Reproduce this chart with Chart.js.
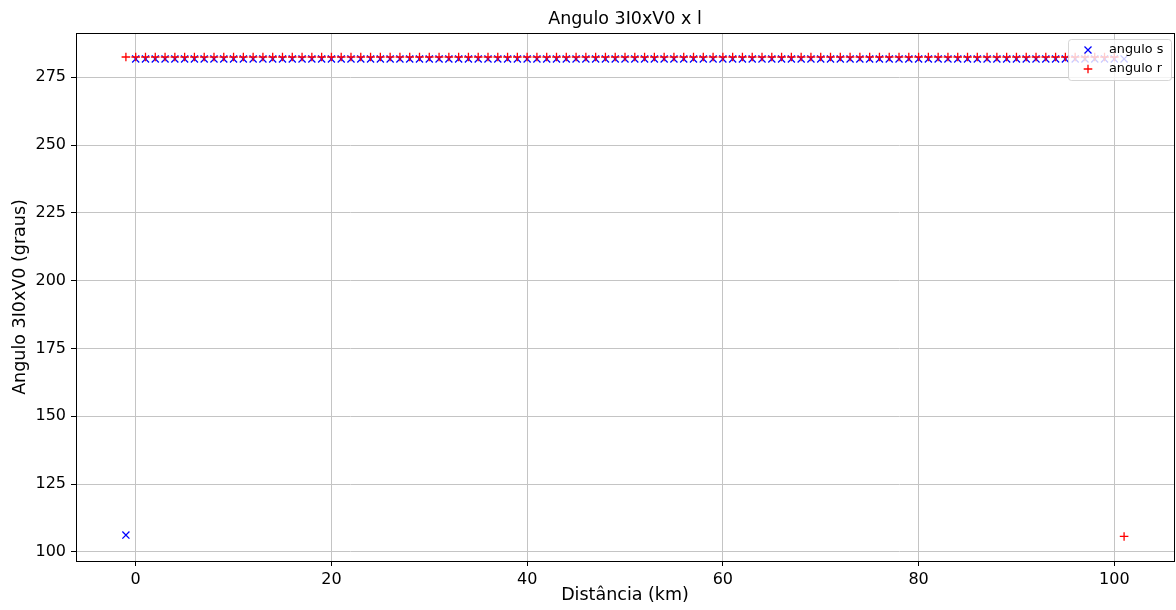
<!DOCTYPE html>
<html>
<head>
<meta charset="utf-8">
<title>Angulo 3I0xV0 x l</title>
<script src="https://cdn.jsdelivr.net/npm/chart.js@4.4.1/dist/chart.umd.min.js"></script>
<style>
  html, body { margin: 0; padding: 0; background: #fff; }
  #wrap { width: 1176px; height: 610px; }
</style>
</head>
<body>
<div id="wrap"><canvas id="anguloChart" width="1176" height="610"></canvas></div>
<script>
// Distância (km) de cada ponto
const distancias = [
  -1, 0, 1, 2, 3, 4, 5, 6, 7, 8, 9, 10, 11, 12, 13, 14, 15, 16, 17, 18, 19, 20,
  21, 22, 23, 24, 25, 26, 27, 28, 29, 30, 31, 32, 33, 34, 35, 36, 37, 38, 39, 40,
  41, 42, 43, 44, 45, 46, 47, 48, 49, 50, 51, 52, 53, 54, 55, 56, 57, 58, 59, 60,
  61, 62, 63, 64, 65, 66, 67, 68, 69, 70, 71, 72, 73, 74, 75, 76, 77, 78, 79, 80,
  81, 82, 83, 84, 85, 86, 87, 88, 89, 90, 91, 92, 93, 94, 95, 96, 97, 98, 99, 100,
  101
];

// Angulo 3I0xV0 no terminal s (graus)
const anguloS = [
  106.2, 281.8, 281.8, 281.8, 281.8, 281.8, 281.8, 281.8, 281.8, 281.8, 281.8, 281.8,
  281.8, 281.8, 281.8, 281.8, 281.8, 281.8, 281.8, 281.8, 281.8, 281.8, 281.8, 281.8,
  281.8, 281.8, 281.8, 281.8, 281.8, 281.8, 281.8, 281.8, 281.8, 281.8, 281.8, 281.8,
  281.8, 281.8, 281.8, 281.8, 281.8, 281.8, 281.8, 281.8, 281.8, 281.8, 281.8, 281.8,
  281.8, 281.8, 281.8, 281.8, 281.8, 281.8, 281.8, 281.8, 281.8, 281.8, 281.8, 281.8,
  281.8, 281.8, 281.8, 281.8, 281.8, 281.8, 281.8, 281.8, 281.8, 281.8, 281.8, 281.8,
  281.8, 281.8, 281.8, 281.8, 281.8, 281.8, 281.8, 281.8, 281.8, 281.8, 281.8, 281.8,
  281.8, 281.8, 281.8, 281.8, 281.8, 281.8, 281.8, 281.8, 281.8, 281.8, 281.8, 281.8,
  281.8, 281.8, 281.8, 281.8, 281.8, 281.8, 281.8
];

// Angulo 3I0xV0 no terminal r (graus)
const anguloR = [
  282.5, 282.5, 282.5, 282.5, 282.5, 282.5, 282.5, 282.5, 282.5, 282.5, 282.5, 282.5,
  282.5, 282.5, 282.5, 282.5, 282.5, 282.5, 282.5, 282.5, 282.5, 282.5, 282.5, 282.5,
  282.5, 282.5, 282.5, 282.5, 282.5, 282.5, 282.5, 282.5, 282.5, 282.5, 282.5, 282.5,
  282.5, 282.5, 282.5, 282.5, 282.5, 282.5, 282.5, 282.5, 282.5, 282.5, 282.5, 282.5,
  282.5, 282.5, 282.5, 282.5, 282.5, 282.5, 282.5, 282.5, 282.5, 282.5, 282.5, 282.5,
  282.5, 282.5, 282.5, 282.5, 282.5, 282.5, 282.5, 282.5, 282.5, 282.5, 282.5, 282.5,
  282.5, 282.5, 282.5, 282.5, 282.5, 282.5, 282.5, 282.5, 282.5, 282.5, 282.5, 282.5,
  282.5, 282.5, 282.5, 282.5, 282.5, 282.5, 282.5, 282.5, 282.5, 282.5, 282.5, 282.5,
  282.5, 282.5, 282.5, 282.5, 282.5, 282.5, 105.7
];

// Ticks dos eixos
const xTicks = [0, 20, 40, 60, 80, 100];
const yTicks = [100, 125, 150, 175, 200, 225, 250, 275];

const FONT = "'DejaVu Sans', 'Liberation Sans', sans-serif";

function toPoints(xs, ys) {
    return xs.map((x, i) => ({ x: x, y: ys[i] }));
}

// Moldura completa da área do gráfico
const frameBox = {
    id: 'frameBox',
    afterDatasetsDraw(chart) {
        const { ctx, chartArea: a } = chart;
        ctx.save();
        ctx.strokeStyle = '#000';
        ctx.lineWidth = 1;
        ctx.strokeRect(Math.round(a.left) + 0.5, Math.round(a.top) + 0.5,
            Math.round(a.right - a.left), Math.round(a.bottom - a.top));
        ctx.restore();
    }
};

// Legenda no canto superior direito, com fundo semi-transparente
const cornerLegend = {
    id: 'cornerLegend',
    afterDraw(chart) {
        const { ctx, chartArea: a } = chart;
        const w = 103, h = 41;
        const x = Math.round(a.right) - w - 3, y = Math.round(a.top) + 6;
        ctx.save();
        ctx.beginPath();
        ctx.roundRect(x + 0.5, y + 0.5, w, h, 3);
        ctx.fillStyle = 'rgba(255,255,255,0.8)';
        ctx.fill();
        ctx.strokeStyle = 'rgba(204,204,204,0.8)';
        ctx.lineWidth = 1;
        ctx.stroke();

        const items = chart.data.datasets;
        ctx.font = '12.8px ' + FONT;
        ctx.textBaseline = 'middle';
        ctx.fillStyle = '#000';
        items.forEach((ds, i) => {
            const cy = y + 11 + i * 19;
            const mx = x + 20;
            ctx.strokeStyle = ds.borderColor;
            ctx.lineWidth = 1.3;
            ctx.beginPath();
            if (ds.pointStyle === 'crossRot') {
                ctx.moveTo(mx - 3.5, cy - 3.5); ctx.lineTo(mx + 3.5, cy + 3.5);
                ctx.moveTo(mx - 3.5, cy + 3.5); ctx.lineTo(mx + 3.5, cy - 3.5);
            } else {
                ctx.moveTo(mx - 4.3, cy); ctx.lineTo(mx + 4.3, cy);
                ctx.moveTo(mx, cy - 4.3); ctx.lineTo(mx, cy + 4.3);
            }
            ctx.stroke();
            ctx.fillText(ds.label, x + 41, cy);
        });
        ctx.restore();
    }
};

const ctx = document.getElementById('anguloChart').getContext('2d');

new Chart(ctx, {
    type: 'scatter',
    data: {
        datasets: [
            {
                label: 'angulo s',
                data: toPoints(distancias, anguloS),
                pointStyle: 'crossRot',
                pointRadius: 5,
                pointHoverRadius: 5,
                borderColor: '#0000ff',
                backgroundColor: '#0000ff',
                pointBorderWidth: 1.3,
                order: 1
            },
            {
                label: 'angulo r',
                data: toPoints(distancias, anguloR),
                pointStyle: 'cross',
                pointRadius: 4.3,
                pointHoverRadius: 4.3,
                borderColor: '#ff0000',
                backgroundColor: '#ff0000',
                pointBorderWidth: 1.3,
                order: 0
            }
        ]
    },
    options: {
        responsive: false,
        animation: false,
        devicePixelRatio: 1,
        layout: {
            autoPadding: false,
            padding: { left: 0, right: 2, top: 0, bottom: 0 }
        },
        plugins: {
            legend: { display: false },
            tooltip: { enabled: false },
            title: {
                display: true,
                fullSize: false,
                text: 'Angulo 3I0xV0 x l',
                color: '#000',
                font: { family: FONT, size: 17.5, weight: 'normal' },
                padding: { top: 9, bottom: 3 }
            }
        },
        scales: {
            x: {
                type: 'linear',
                min: -6.1,
                max: 106.1,
                afterBuildTicks: (scale) => { scale.ticks = xTicks.map(v => ({ value: v })); },
                afterFit: (scale) => {
                    scale.height = 49;
                    // sem folga extra para os rótulos nas pontas
                    scale.paddingLeft = 0;
                    scale.paddingRight = 0;
                },
                border: { display: false },
                grid: {
                    color: '#c4c4c4',
                    lineWidth: 1,
                    drawTicks: true,
                    tickLength: 5,
                    tickColor: '#000'
                },
                ticks: {
                    color: '#000',
                    padding: 4,
                    maxRotation: 0,
                    font: { family: FONT, size: 16 }
                },
                title: {
                    display: true,
                    text: 'Distância (km)',
                    color: '#000',
                    font: { family: FONT, size: 17.5 },
                    padding: { top: 0, bottom: 4 }
                }
            },
            y: {
                type: 'linear',
                min: 96.65,
                max: 291.35,
                afterBuildTicks: (scale) => { scale.ticks = yTicks.map(v => ({ value: v })); },
                afterFit: (scale) => { scale.width = 76; },
                border: { display: false },
                grid: {
                    color: '#c4c4c4',
                    lineWidth: 1,
                    drawTicks: true,
                    tickLength: 5,
                    tickColor: '#000'
                },
                ticks: {
                    color: '#000',
                    padding: 5,
                    font: { family: FONT, size: 16 }
                },
                title: {
                    display: true,
                    text: 'Angulo 3I0xV0 (graus)',
                    color: '#000',
                    font: { family: FONT, size: 17.5 },
                    padding: { top: 10, bottom: 0 }
                }
            }
        }
    },
    plugins: [frameBox, cornerLegend]
});
</script>
</body>
</html>
